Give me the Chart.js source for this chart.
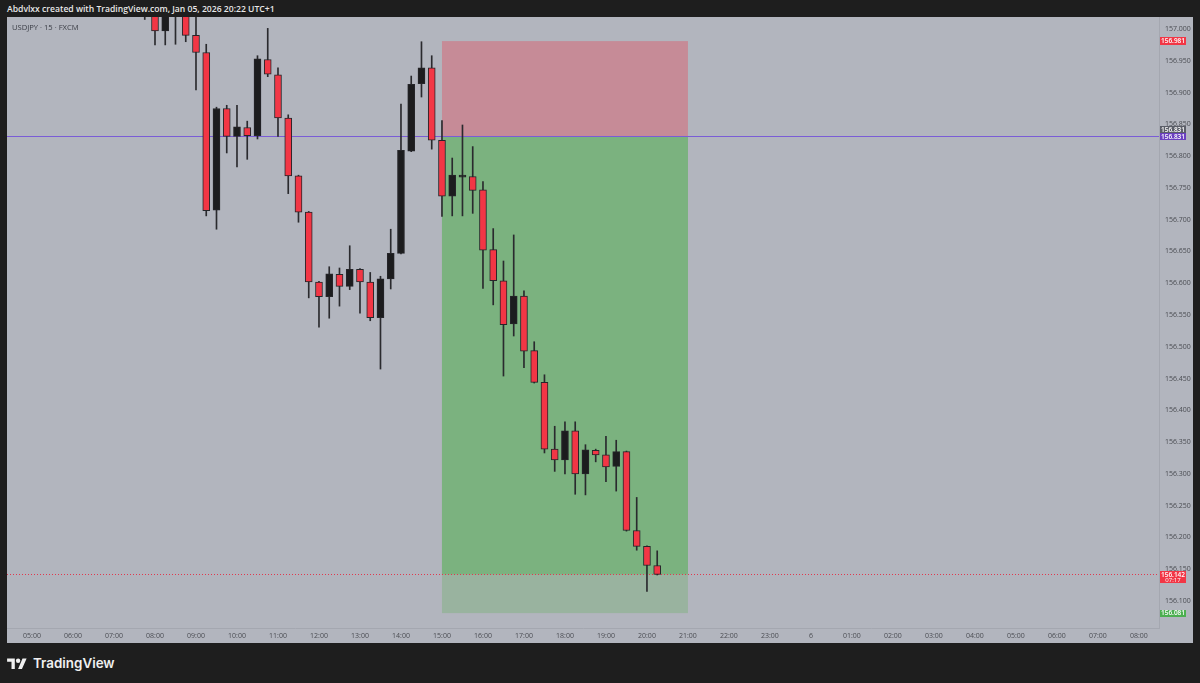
<!DOCTYPE html>
<html><head><meta charset="utf-8">
<script src="https://cdn.jsdelivr.net/npm/chart.js@4.4.1/dist/chart.umd.min.js"></script>
<style>
html,body{margin:0;padding:0;background:#1e1e1e;width:1200px;height:683px;overflow:hidden;font-family:"Open Sans",Roboto,sans-serif;}
#hdr{position:absolute;left:7px;top:3px;color:#e8e8e8;font-size:8.6px;font-weight:600;white-space:nowrap;}
#pane{position:absolute;left:7px;top:17px;width:1186px;height:626px;background:#b2b5be;}
#sym{position:absolute;left:12px;top:22px;color:#3a3d45;font-size:7.6px;z-index:2;white-space:nowrap;}
canvas{display:block}
#foot{position:absolute;left:7px;top:653px;height:20px;display:flex;align-items:center;color:#f0f0f0;}
#foot span{font-family:Inter,"Open Sans",sans-serif;font-size:13.4px;font-weight:600;margin-left:6px;letter-spacing:0px;}
</style></head>
<body>
<div id="hdr">Abdvlxx created with TradingView.com, Jan 05, 2026 20:22 UTC+1</div>
<div id="pane"><canvas id="c" width="1186" height="626"></canvas></div>
<div id="sym">USDJPY · 15 · FXCM</div>
<div id="foot"><svg width="20" height="11" viewBox="0 0 36 20"><path fill="#f0f0f0" d="M14 20H8V7H0V1h14v19zM27 20h-7l8-19h7.5L27 20z"/><circle fill="#f0f0f0" cx="20" cy="5" r="4"/></svg><span>TradingView</span></div>
<script>
// ---- data ----
const times  = ["07:45","08:00","08:15","08:30","08:45","09:00","09:15","09:30","09:45","10:00",
                "10:15","10:30","10:45","11:00","11:15","11:30","11:45","12:00","12:15","12:30",
                "12:45","13:00","13:15","13:30","13:45","14:00","14:15","14:30","14:45","15:00",
                "15:15","15:30","15:45","16:00","16:15","16:30","16:45","17:00","17:15","17:30",
                "17:45","18:00","18:15","18:30","18:45","19:00","19:15","19:30","19:45","20:00","20:15"];
const opens  = [157.060,157.040,156.997,157.050,157.030,156.990,156.963,156.715,156.875,156.831,
                156.845,156.832,156.952,156.928,156.860,156.769,156.712,156.602,156.579,156.614,
                156.595,156.622,156.602,156.546,156.607,156.647,156.808,156.914,156.939,156.825,
                156.737,156.767,156.768,156.747,156.653,156.604,156.536,156.580,156.494,156.444,
                156.339,156.322,156.368,156.300,156.337,156.330,156.312,156.335,156.211,156.186,156.156];
const highs  = [157.080,157.055,157.045,157.065,157.045,157.025,156.976,156.877,156.880,156.880,
                156.855,156.958,157.001,156.939,156.865,156.770,156.713,156.603,156.626,156.624,
                156.659,156.623,156.617,156.611,156.685,156.882,156.926,156.980,156.958,156.856,
                156.797,156.849,156.815,156.760,156.686,156.635,156.676,156.588,156.508,156.456,
                156.375,156.382,156.382,156.346,156.339,156.359,156.353,156.336,156.263,156.187,156.179];
const lows   = [157.015,156.975,156.975,156.976,156.980,156.904,156.706,156.685,156.805,156.783,
                156.795,156.827,156.925,156.831,156.741,156.696,156.577,156.531,156.545,156.564,
                156.590,156.553,156.541,156.465,156.591,156.646,156.807,156.893,156.811,156.705,
                156.706,156.706,156.710,156.592,156.566,156.454,156.517,156.467,156.443,156.333,
                156.304,156.300,156.268,156.267,156.319,156.288,156.273,156.210,156.180,156.115,156.141];
const closes = [157.030,156.997,157.030,157.030,156.990,156.963,156.714,156.875,156.831,156.846,
                156.832,156.953,156.929,156.860,156.769,156.712,156.602,156.579,156.615,156.595,
                156.622,156.602,156.546,156.607,156.647,156.809,156.913,156.939,156.825,156.737,
                156.770,156.770,156.746,156.652,156.604,156.535,156.580,156.493,156.444,156.339,
                156.322,156.368,156.300,156.338,156.330,156.311,156.335,156.211,156.186,156.156,156.142];
const xTickLabels = ["05:00","06:00","07:00","08:00","09:00","10:00","11:00","12:00","13:00","14:00",
                     "15:00","16:00","17:00","18:00","19:00","20:00","21:00","22:00","23:00","6",
                     "01:00","02:00","03:00","04:00","05:00","06:00","07:00","08:00"];
const yTickValues = [156.100,156.150,156.200,156.250,156.300,156.350,156.400,156.450,156.500,156.550,
                     156.600,156.650,156.700,156.750,156.800,156.850,156.900,156.950,157.000];
const position = {start:"15:00", end:"21:00", entry:156.831, stop:156.981, target:156.081};
const countdown = "07:17";

// ---- helpers ----
const toH = s => { const [h,m] = s.split(":").map(Number); return h + m/60; };
const xs = times.map(toH);
const xTickValues = xTickLabels.map((l,i) => 5 + i);
const lastPrice = closes[closes.length-1];
const RED = '#f23645', BLACK = '#1c1c1e';
const isUp = i => closes[i] >= opens[i];

const overlay = {
  id:'overlay',
  beforeDatasetsDraw(chart){
    const {ctx, chartArea:a, scales:{x,y}} = chart;
    ctx.save();
    const x0 = x.getPixelForValue(toH(position.start)), x1 = x.getPixelForValue(toH(position.end));
    const yS = y.getPixelForValue(position.stop), yE = y.getPixelForValue(position.entry);
    const yT = y.getPixelForValue(position.target), yL = y.getPixelForValue(lastPrice);
    ctx.fillStyle = '#c68b97'; ctx.fillRect(x0, yS, x1-x0, yE-yS);
    ctx.fillStyle = '#99b39f'; ctx.fillRect(x0, yE, x1-x0, yT-yE);
    ctx.fillStyle = '#7bb27f'; ctx.fillRect(x0, yE, x1-x0, yL-yE);
    // entry line
    ctx.strokeStyle = '#7a5cd6'; ctx.lineWidth = 1;
    ctx.beginPath(); ctx.moveTo(a.left, Math.round(yE)+0.5); ctx.lineTo(a.right, Math.round(yE)+0.5); ctx.stroke();
    // last price dotted line
    ctx.strokeStyle = '#e0394f'; ctx.setLineDash([1,2]);
    ctx.beginPath(); ctx.moveTo(a.left, Math.round(yL)+0.5); ctx.lineTo(a.right, Math.round(yL)+0.5); ctx.stroke();
    ctx.restore();
  },
  afterDraw(chart){
    const {ctx, chartArea:a, scales:{y}} = chart;
    ctx.save();
    ctx.font = '600 6.5px "Open Sans", sans-serif';
    ctx.textAlign = 'center'; ctx.textBaseline = 'middle';
    const bx = a.right + 1, bw = 26, cx = bx + bw/2;
    const box = (yc, h, bg, lines) => {
      ctx.fillStyle = bg; ctx.fillRect(bx, Math.round(yc - h/2), bw, h);
      ctx.fillStyle = '#ffffff';
      lines.forEach((t,k) => ctx.fillText(t, cx, yc - (lines.length-1)*3 + k*6 + 0.5));
    };
    const yS = y.getPixelForValue(position.stop), yE = y.getPixelForValue(position.entry);
    const yT = y.getPixelForValue(position.target), yL = y.getPixelForValue(lastPrice);
    box(yS, 8, RED, [position.stop.toFixed(3)]);
    box(yE - 7, 7, '#5b5e68', [position.entry.toFixed(3)]);
    box(yE, 7, '#6a3fc0', [position.entry.toFixed(3)]);
    ctx.fillStyle = RED; ctx.fillRect(bx, Math.round(yL - 3), bw, 12);
    ctx.fillStyle = '#ffffff';
    ctx.fillText(lastPrice.toFixed(3), cx, yL + 0.5);
    ctx.font = '6px "Open Sans", sans-serif';
    ctx.fillText(countdown, cx, yL + 6);
    ctx.font = '600 6.5px "Open Sans", sans-serif';
    box(yT, 7, '#4caf50', [position.target.toFixed(3)]);
    ctx.restore();
  }
};

const noPad = s => { s.paddingTop = 0; s.paddingBottom = 0; s.paddingLeft = 0; s.paddingRight = 0; };

new Chart(document.getElementById('c'), {
  type:'bar',
  data:{
    datasets:[
      { label:'body', order:0, grouped:false, barThickness:7,
        data: xs.map((x,i) => ({x, y:[opens[i], closes[i]]})),
        backgroundColor: c => isUp(c.dataIndex) ? BLACK : RED,
        borderColor:'#26262a', borderWidth:1, borderSkipped:false },
      { label:'wick', order:1, grouped:false, barThickness:1,
        data: xs.map((x,i) => ({x, y:[lows[i], highs[i]]})),
        backgroundColor:'#2a2a2e', borderWidth:0 }
    ]
  },
  options:{
    responsive:false, animation:false, events:[],
    layout:{padding:0},
    plugins:{legend:{display:false}, tooltip:{enabled:false}},
    scales:{
      x:{ type:'linear', min:4.39, max:32.49, offset:false,
          afterBuildTicks: s => { s.ticks = xTickValues.map(v => ({value:v})); },
          afterFit: s => { s.height = 15; noPad(s); },
          grid:{display:false, drawTicks:false},
          border:{display:true, color:'#a4a7b0'},
          ticks:{ autoSkip:false, maxRotation:0, padding:4, color:'#4a4c52',
                  font:{size:7, family:'"Open Sans", sans-serif'},
                  callback:(v,i) => xTickLabels[i] } },
      y:{ type:'linear', position:'right', min:156.0576, max:157.0189,
          afterBuildTicks: s => { s.ticks = yTickValues.map(v => ({value:v})); },
          afterFit: s => { s.width = 34; noPad(s); },
          grid:{display:false, drawTicks:false},
          border:{display:true, color:'#a4a7b0'},
          ticks:{ padding:6, color:'#4a4c52', crossAlign:'near',
                  font:{size:7, family:'"Open Sans", sans-serif'},
                  callback: v => v.toFixed(3) } }
    }
  },
  plugins:[overlay]
});
</script>
</body></html>
